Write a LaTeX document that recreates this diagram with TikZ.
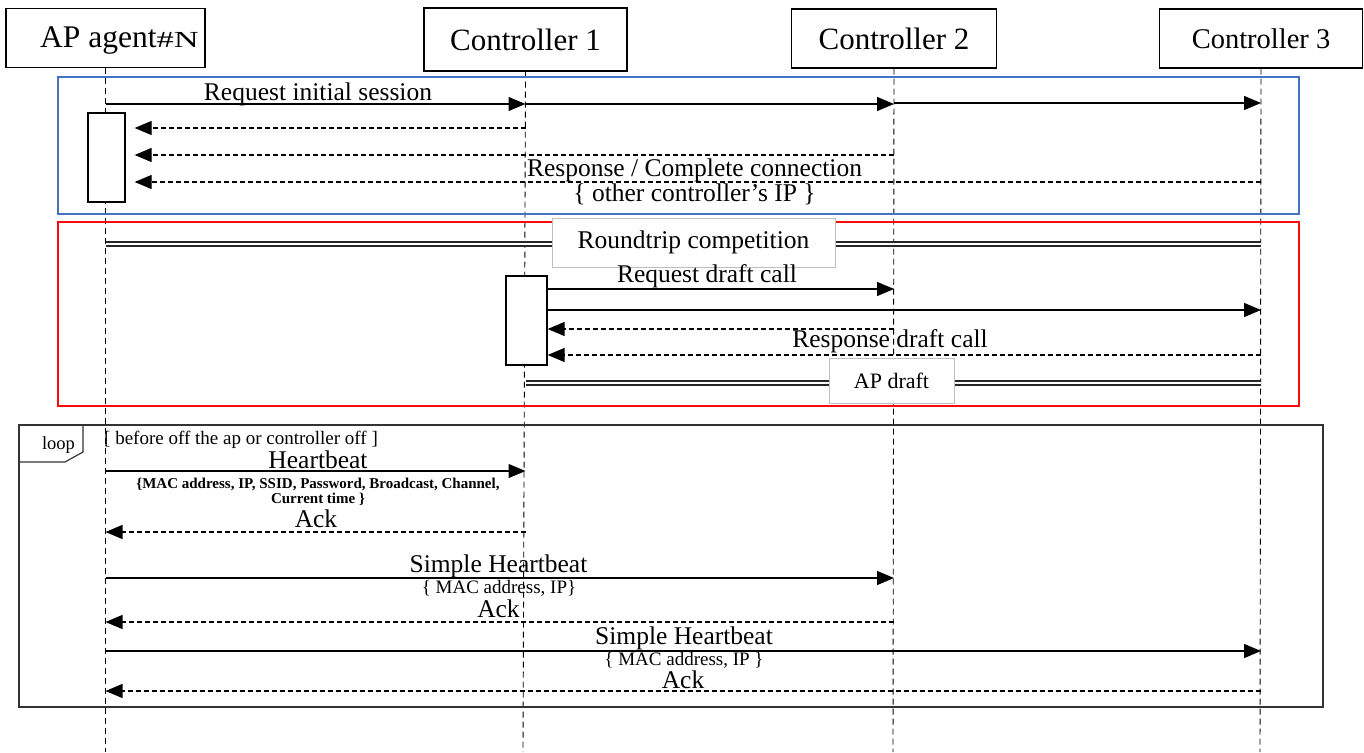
\documentclass[tikz,border=0pt]{standalone}
\usepackage{fontspec}
\usepackage{graphicx}
\setmainfont{Liberation Serif}
\usetikzlibrary{arrows.meta}
\newcommand\fsz[1]{\fontsize{#1}{#1}\selectfont}
\definecolor{boxblue}{RGB}{68,114,196}
\definecolor{boxred}{RGB}{250,10,10}
\begin{document}
\begin{tikzpicture}[x=1pt,y=-1pt,
  part/.style={draw, line width=1.3pt, fill=white, inner sep=0},
  lifeline/.style={dash pattern=on 6pt off 4pt, line width=0.9pt},
  msg/.style={line width=1.3pt, -{Triangle[length=17pt,width=14pt]}},
  reply/.style={line width=1.2pt, dash pattern=on 5pt off 3pt, -{Triangle[length=17pt,width=14pt]}},
  lbl/.style={inner sep=0, font=\fsz{25.5}, anchor=base},
  smalllbl/.style={inner sep=0, font=\fsz{19}, anchor=base},
  act/.style={draw, line width=1.3pt, fill=white, inner sep=0},
  dbl/.style={double, double distance=2.5pt, line width=1.5pt, draw=black!85},
  tagbox/.style={draw=black!25, line width=0.8pt, fill=white, inner sep=0, font=\fsz{25.5}},
  frameblue/.style={draw=boxblue, line width=2.6pt},
  framered/.style={draw=boxred, line width=2.6pt},
  loopframe/.style={draw=black!80, line width=1.2pt},
]
\useasboundingbox (0,0) rectangle (1364,752);

% participants
\node[part, minimum width=199pt, minimum height=59pt] (ap) at (105.5,38) {};
\node[inner sep=0, anchor=base west] (aplbl) at (40,48) {\fsz{31.5}AP agent{\fsz{23}\scalebox{1.5}[1]{\#N}}};
\node[part, minimum width=203pt, minimum height=63pt, font=\fsz{31}] (c1) at (525.5,39.5) {Controller 1};
\node[part, minimum width=205pt, minimum height=59pt, font=\fsz{31}] (c2) at (894,38.5) {Controller 2};
\node[part, minimum width=203pt, minimum height=59pt, font=\fsz{28.5}] (c3) at (1261,38.5) {Controller 3};

% lifelines
\coordinate (apE) at (105.5,752);
\coordinate (c1E) at (523,752);
\coordinate (c2E) at (893,752);
\coordinate (c3E) at (1260,752);
\draw[lifeline] (ap.south) -- (apE);
\draw[lifeline] (c1.south) -- (c1E);
\draw[lifeline] (c2.south) -- (c2E);
\draw[lifeline] (c3.south) -- (c3E);

% ---- blue frame: initial session
\draw[frameblue] (58,77) rectangle (1299,214);
\node[act, minimum width=37pt, minimum height=89pt] (apact) at (106.5,157.5) {};
\draw[msg] (ap|-0,104) -- (c1|-0,104);
\draw[msg] (c1|-0,104) -- (c2|-0,104);
\draw[msg] (c2|-0,103) -- (c3|-0,103);
\node[lbl] (lreq) at (318,100) {Request initial session};
\draw[reply] (c1|-0,128) -- ([xshift=9pt]apact.east|-0,128);
\draw[reply] (c2|-0,155) -- ([xshift=9pt]apact.east|-0,155);
\draw[reply] (c3|-0,182) -- ([xshift=9pt]apact.east|-0,182);
\node[lbl] (lresp) at (694.5,176) {Response / Complete connection};
\node[lbl] (lip) at (694.5,201) {\{ other controller’s IP \}};

% ---- red frame: roundtrip competition
\draw[framered] (58,222) rectangle (1299,406);
\draw[dbl] (ap|-0,244) -- (c3|-0,244);
\node[tagbox, minimum width=283pt, minimum height=49pt] (rt) at (693.5,242.5) {Roundtrip competition};
\node[act, minimum width=41pt, minimum height=89pt] (c1act) at (526.5,320.5) {};
\node[lbl] (lrdc) at (707,282) {Request draft call};
\draw[msg] (c1act.east|-0,289) -- (c2|-0,289);
\draw[msg] (c1act.east|-0,310) -- (c3|-0,310);
\draw[reply] (c2|-0,329) -- (c1act.east|-0,329);
\draw[reply] (c3|-0,355) -- (c1act.east|-0,355);
\node[lbl] (lrsp) at (890,347) {Response draft call};
\draw[dbl] (c1|-0,383) -- (c3|-0,383);
\node[tagbox, font=\fsz{22}, minimum width=125pt, minimum height=45pt] (apd) at (891.5,380.5) {AP draft};

% ---- loop frame
\draw[loopframe] (19,425) rectangle (1323,707);
\draw[loopframe] (19,462) -- (65,462) -- (83,452) -- (83,425);
\node[inner sep=0, font=\fsz{18.5}, anchor=base] (lloop) at (58.5,449) {loop};
\node[inner sep=0, font=\fsz{19}, anchor=base west] (lcond) at (104,444) {[ before off the ap or controller off ]};

\node[lbl] (lhb) at (318,468) {Heartbeat};
\draw[msg] (ap|-0,471) -- (c1|-0,471);
\node[inner sep=0, font=\fsz{15}\bfseries, anchor=base] (lhb1) at (318,488) {\{MAC address, IP, SSID, Password, Broadcast, Channel,};
\node[inner sep=0, font=\fsz{15}\bfseries, anchor=base] (lhb2) at (318,503) {Current time \}};
\node[lbl] (lack1) at (316,527) {Ack};
\draw[reply] (c1|-0,532) -- (ap|-0,532);

\node[lbl] (lshb1) at (498.5,572) {Simple Heartbeat};
\draw[msg] (ap|-0,578) -- (c2|-0,578);
\node[smalllbl] (lmac1) at (499,593) {\{ MAC address, IP\}};
\node[lbl] (lack2) at (498.5,617) {Ack};
\draw[reply] (c2|-0,622) -- (ap|-0,622);

\node[lbl] (lshb2) at (684,644) {Simple Heartbeat};
\draw[msg] (ap|-0,651) -- (c3|-0,651);
\node[smalllbl] (lmac2) at (684,665) {\{ MAC address, IP \}};
\node[lbl] (lack3) at (683,688) {Ack};
\draw[reply] (c3|-0,691) -- (ap|-0,691);
\end{tikzpicture}
\end{document}
